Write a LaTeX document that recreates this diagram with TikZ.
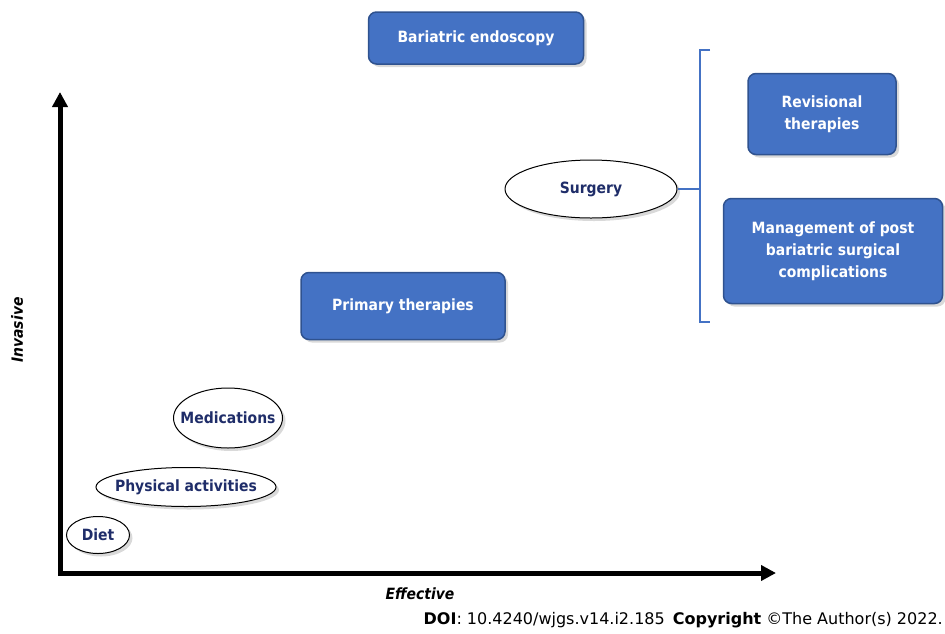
\documentclass[tikz,border=0pt]{standalone}
\usepackage{fontspec}
\setmainfont{DejaVu Sans}[FakeStretch=0.9]
\newfontfamily\doifont{DejaVu Sans}
\usetikzlibrary{shapes.geometric, arrows.meta, shadows}
\definecolor{boxblue}{RGB}{68,114,196}
\definecolor{boxedge}{RGB}{47,82,143}
\definecolor{navy}{RGB}{31,45,105}

\begin{document}
\begin{tikzpicture}[x=1pt, y=-1pt,
        bluebox/.style={draw=boxedge, line width=1.5pt, fill=boxblue, rounded corners=8pt, text=white, font=\fontsize{15.5}{22}\selectfont\bfseries, align=center, inner sep=0pt, drop shadow={opacity=0.3, shadow xshift=3pt, shadow yshift=-3pt}},
        oval/.style={ellipse, draw, line width=1pt, fill=white, text=navy, font=\fontsize{15.5}{18.5}\selectfont\bfseries, inner xsep=-20pt, inner ysep=0pt, drop shadow={opacity=0.3, shadow xshift=3pt, shadow yshift=-3pt}},
        axis/.style={line width=5pt, {Triangle[length=15pt, width=15pt]}-{Triangle[length=15pt, width=15pt]}},
        bracket/.style={draw=boxblue, line width=1.5pt},
        axislabel/.style={font=\fontsize{15.5}{18.5}\selectfont\bfseries\itshape}]
        \useasboundingbox (0,0) rectangle (945,633);

        % boxes
        \node[bluebox, minimum width=215pt, minimum height=52pt] (endo) at (476,38) {Bariatric endoscopy};
        \node[bluebox, minimum width=148pt, minimum height=81pt] (revis) at (822,114) {Revisional\\therapies};
        \node[bluebox, minimum width=219pt, minimum height=105pt] (mgmt) at (833,251) {Management of post\\bariatric surgical\\complications};
        \node[bluebox, minimum width=204pt, minimum height=67pt] (prim) at (403,306) {Primary therapies};

        % ovals
        \node[oval, minimum width=172pt, minimum height=58pt] (surg) at (591,189) {Surgery};
        \node[oval, minimum width=109pt, minimum height=60pt] (med) at (228,418) {Medications};
        \node[oval, minimum width=180pt, minimum height=39pt] (phys) at (186,487) {Physical activities};
        \node[oval, minimum width=63pt, minimum height=37pt] (diet) at (98,535) {Diet};

        % bracket
        \coordinate (brtop) at (710,50);
        \coordinate (brbot) at (710,322);
        \coordinate (brmid) at (700,189);
        \draw[bracket] (brtop) -- (brtop -| brmid) -- (brbot -| brmid) -- (brbot);
        \draw[bracket] (surg.east) -- (brmid);

        % axes
        \coordinate (ytop) at (60,92);
        \coordinate (origin) at (60,573);
        \coordinate (xend) at (776,573);
        \draw[axis] (ytop) -- (origin) -- (xend);
        \node[axislabel, rotate=90] (inv) at (17,330) {Invasive};
        \node[axislabel] (eff) at (420,594) {Effective};

        \node[anchor=east, font=\doifont\fontsize{16}{19}\selectfont, inner sep=0pt] (doi) at (943,620) {\textbf{DOI}: 10.4240/wjgs.v14.i2.185\enspace\textbf{Copyright} \textcopyright The Author(s) 2022.};
    \end{tikzpicture}
\end{document}
